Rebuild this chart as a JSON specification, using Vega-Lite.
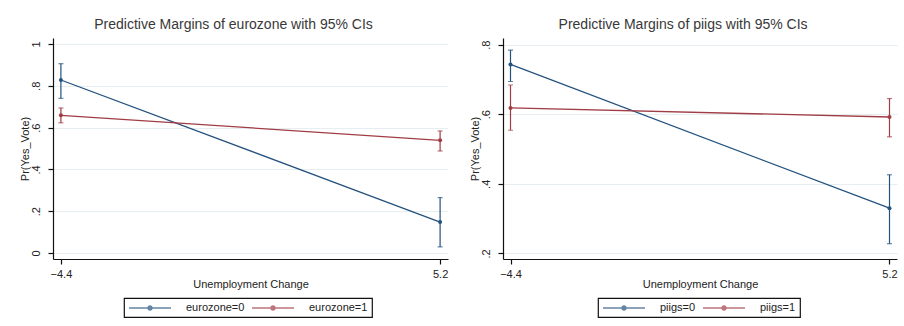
{
  "$schema": "https://vega.github.io/schema/vega-lite/v6.json",
  "background": "white",
  "padding": {"left": 19, "top": 18, "right": 5, "bottom": 5},
  "datasets": {
    "ez": [
      {"x": -4.4, "grp": "eurozone=0", "y": 0.828, "lo": 0.740, "hi": 0.906},
      {"x": 5.2, "grp": "eurozone=0", "y": 0.148, "lo": 0.029, "hi": 0.265},
      {"x": -4.4, "grp": "eurozone=1", "y": 0.659, "lo": 0.623, "hi": 0.694},
      {"x": 5.2, "grp": "eurozone=1", "y": 0.539, "lo": 0.488, "hi": 0.584}
    ],
    "pi": [
      {"x": -4.4, "grp": "piigs=0", "y": 0.743, "lo": 0.694, "hi": 0.784},
      {"x": 5.2, "grp": "piigs=0", "y": 0.330, "lo": 0.228, "hi": 0.426},
      {"x": -4.4, "grp": "piigs=1", "y": 0.618, "lo": 0.554, "hi": 0.684},
      {"x": 5.2, "grp": "piigs=1", "y": 0.592, "lo": 0.535, "hi": 0.645}
    ]
  },
  "hconcat": [
    {
      "title": {"text": "Predictive Margins of eurozone with 95% CIs"},
      "width": 395,
      "height": 221,
      "data": {"name": "ez"},
      "encoding": {
        "x": {"field": "x", "type": "quantitative", "title": "Unemployment Change",
              "scale": {"domain": [-4.6, 5.4], "nice": false, "zero": false},
              "axis": {"values": [-4.4, 5.2], "format": ".1f"}},
        "color": {"field": "grp", "type": "nominal",
                  "scale": {"range": ["#24527f", "#a03c44"]},
                  "legend": {"legendX": 71, "legendY": 260}}
      },
      "layer": [
        {"mark": {"type": "line", "strokeWidth": 1.3},
         "encoding": {"y": {"field": "y", "type": "quantitative", "title": "Pr(Yes_Vote)",
                            "scale": {"domain": [-0.029, 1.029], "nice": false, "zero": false},
                            "axis": {"values": [0, 0.2, 0.4, 0.6, 0.8, 1]}}}},
        {"mark": {"type": "errorbar", "ticks": {"size": 5}, "thickness": 1.2},
         "encoding": {"y": {"field": "lo", "type": "quantitative", "title": "Pr(Yes_Vote)"},
                      "y2": {"field": "hi"}}},
        {"mark": {"type": "point", "filled": true, "size": 16, "opacity": 1},
         "encoding": {"y": {"field": "y", "type": "quantitative", "title": "Pr(Yes_Vote)"}}}
      ]
    },
    {
      "title": {"text": "Predictive Margins of piigs with 95% CIs"},
      "width": 394,
      "height": 221,
      "data": {"name": "pi"},
      "encoding": {
        "x": {"field": "x", "type": "quantitative", "title": "Unemployment Change",
              "scale": {"domain": [-4.59, 5.39], "nice": false, "zero": false},
              "axis": {"values": [-4.4, 5.2], "format": ".1f"}},
        "color": {"field": "grp", "type": "nominal",
                  "scale": {"range": ["#24527f", "#a03c44"]},
                  "legend": {"legendX": 95, "legendY": 260}}
      },
      "layer": [
        {"mark": {"type": "line", "strokeWidth": 1.3},
         "encoding": {"y": {"field": "y", "type": "quantitative", "title": "Pr(Yes_Vote)",
                            "scale": {"domain": [0.184, 0.819], "nice": false, "zero": false},
                            "axis": {"values": [0.2, 0.4, 0.6, 0.8]}}}},
        {"mark": {"type": "errorbar", "ticks": {"size": 5}, "thickness": 1.2},
         "encoding": {"y": {"field": "lo", "type": "quantitative", "title": "Pr(Yes_Vote)"},
                      "y2": {"field": "hi"}}},
        {"mark": {"type": "point", "filled": true, "size": 16, "opacity": 1},
         "encoding": {"y": {"field": "y", "type": "quantitative", "title": "Pr(Yes_Vote)"}}}
      ]
    }
  ],
  "spacing": 21,
  "resolve": {"scale": {"color": "independent", "x": "independent", "y": "independent"},
              "legend": {"color": "independent"}},
  "config": {
    "font": "Liberation Sans",
    "view": {"stroke": null},
    "title": {"fontSize": 14, "fontWeight": "normal", "color": "#383838", "anchor": "middle", "frame": "bounds", "offset": 6},
    "axis": {
      "domainColor": "#111", "tickColor": "#111", "tickSize": 5, "domainWidth": 1.2, "tickWidth": 1.2,
      "labelFontSize": 11, "labelColor": "#222", "titleFontSize": 11, "titleFontWeight": "normal", "titleColor": "#222"
    },
    "axisX": {"grid": false, "labelPadding": 4, "titlePadding": -1},
    "axisY": {"grid": true, "gridColor": "#e6eef2", "gridWidth": 1, "labelAngle": -90, "labelAlign": "center", "labelBaseline": "bottom", "labelPadding": 7, "titlePadding": 0,
              "labelExpr": "datum.value == 0 ? '0' : datum.value == 1 ? '1' : substring(format(datum.value, '.1f'), 1)"},
    "legend": {
      "orient": "none", "direction": "horizontal", "title": null,
      "strokeColor": "#111", "strokeWidth": 1.2, "padding": 4,
      "symbolType": "M-4,0H4M-0.4,0A0.4,0.4,0,1,1,0.4,0A0.4,0.4,0,1,1,-0.4,0Z",
      "symbolSize": 110, "symbolStrokeWidth": 1.3, "symbolOffset": 16,
      "labelFontSize": 11, "labelColor": "#222", "labelOffset": 30, "columnPadding": 4
    }
  }
}
